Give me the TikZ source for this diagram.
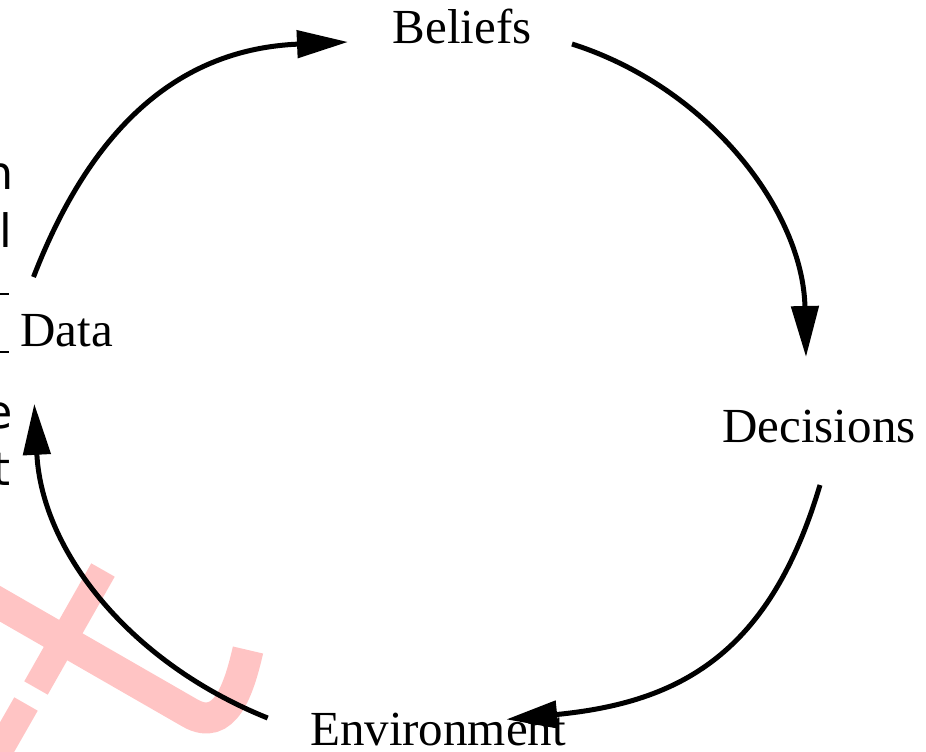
\documentclass[tikz,border=0pt]{standalone}
\usepackage{fontspec}
\setmainfont{Liberation Serif}
\newfontfamily\fragfont{DejaVu Sans}
\usetikzlibrary{arrows.meta}
\definecolor{wm}{RGB}{255,196,196}
\begin{document}
\begin{tikzpicture}[x=1pt,y=-1pt,
  lbl/.style={inner sep=0pt, anchor=base, font=\fontsize{49}{58}\selectfont},
  frag/.style={inner sep=0pt, anchor=base east, font=\fragfont\fontsize{46}{55}\selectfont},
  fragrule/.style={line width=2.2pt},
  cyc/.style={line width=5pt, -{Triangle[length=51pt,width=27pt]}},
  wmark/.style={wm, line width=31pt}]
\useasboundingbox (0,0) rectangle (926,752);
% watermark fragment
\draw[wmark] (-10,598) -- (190,713) .. controls (225,733) and (239,689) .. (248,650);
\draw[wm, line width=27pt] (103,570) -- (36,688);
\draw[wm, line width=27pt] (26,704) -- (-10,767);
% clipped text fragments at the left edge
\node[frag] (f1) at (14,189) {n};
\node[frag] (f2) at (12.5,247) {l};
\node[frag] (f3) at (13,428) {e};
\node[frag] (f4) at (11,485) {t};
\draw[fragrule] (0,294) -- (9,294);
\draw[fragrule] (0,352) -- (9,352);
% labels
\node[lbl] (beliefs) at (462,44) {Beliefs};
\node[lbl] (decisions) at (819,442) {Decisions};
\node[lbl] (data) at (66.5,346) {Data};
\node[lbl] (env) at (438,745) {Environment};
% cycle
\draw[cyc] ([shift={(-33,-69)}]data.base) .. controls +(60,-155) and +(-165,7) .. ([shift={(-114,-2)}]beliefs.base);
\draw[cyc] ([shift={(110,0)}]beliefs.base) .. controls +(138,44) and +(-3,-145) .. ([shift={(-13,-85)}]decisions.base);
\draw[cyc] ([shift={(1,43)}]decisions.base) .. controls +(-50,168) and +(175,-17) .. ([shift={(68.3,-25.6)}]env.base);
\draw[cyc] ([shift={(-170.3,-27)}]env.base) .. controls +(-137,-55) and +(7.5,148) .. ([shift={(-32.2,57.8)}]data.base);
\end{tikzpicture}
\end{document}
